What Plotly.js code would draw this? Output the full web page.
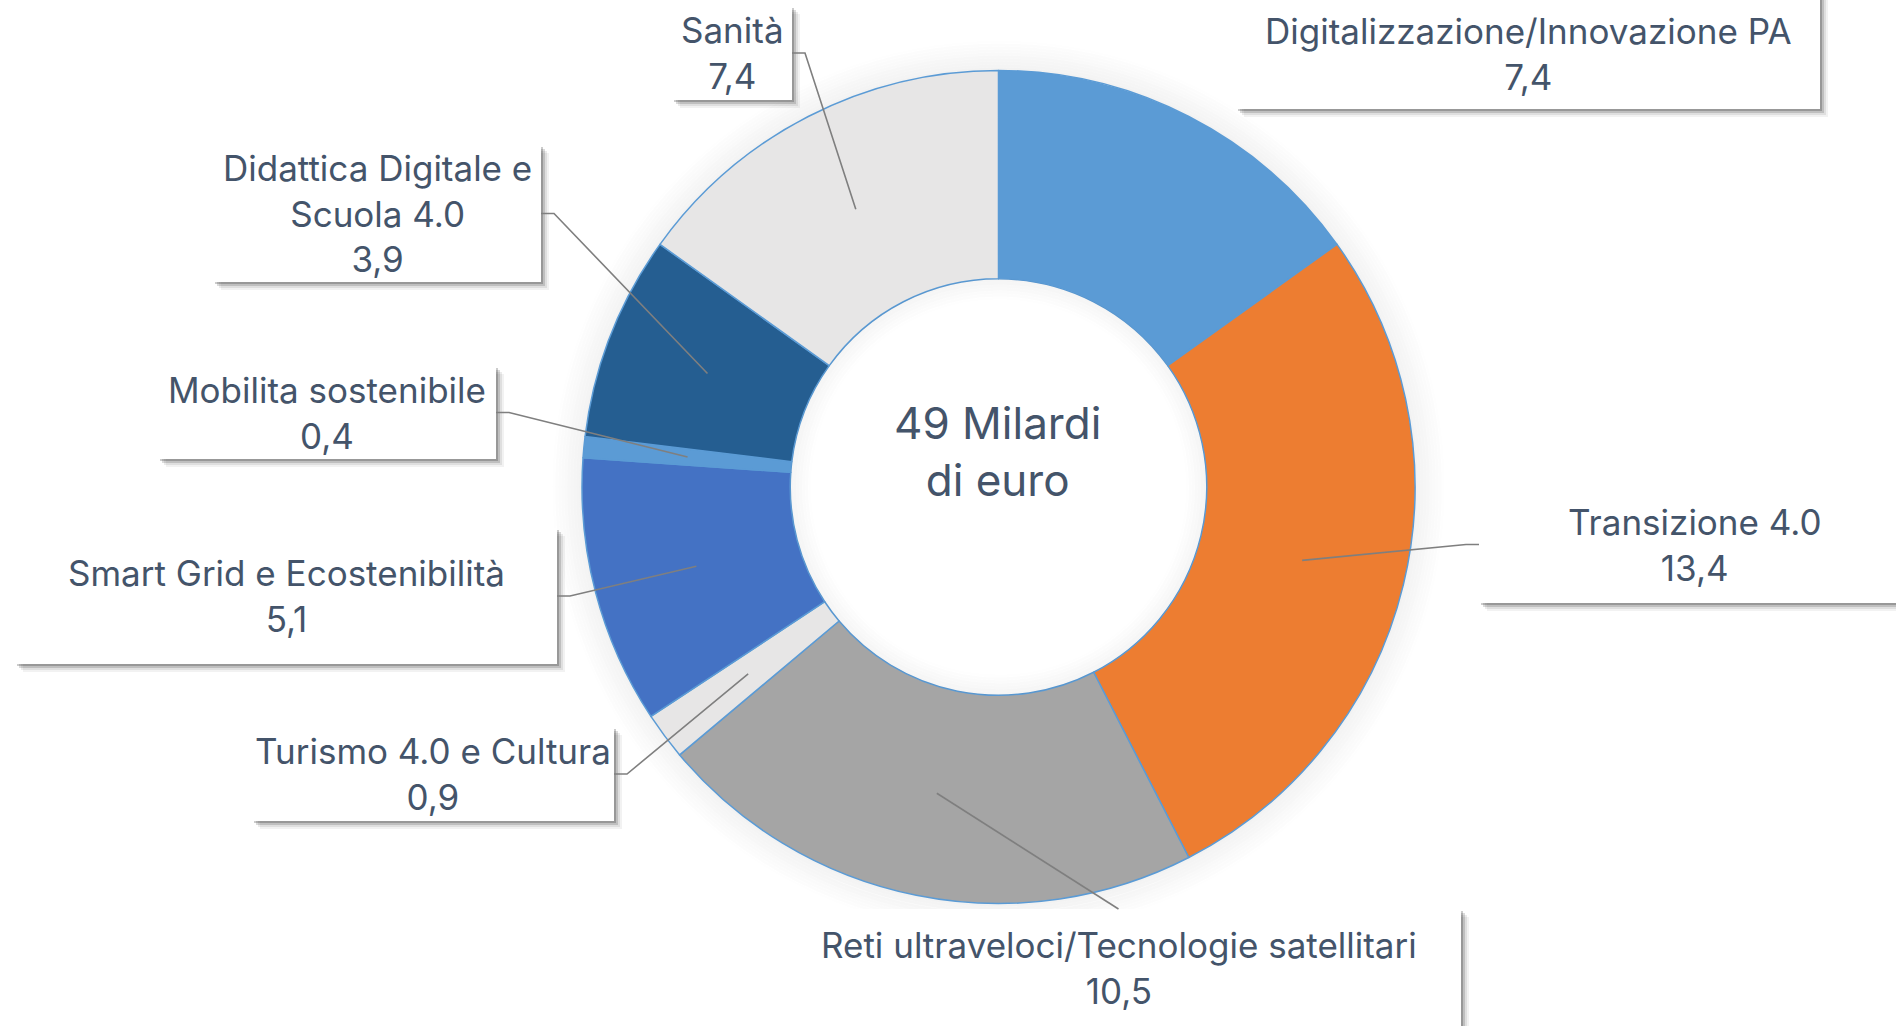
<!DOCTYPE html>
<html>
<head>
<meta charset="utf-8">
<script src="https://cdn.plot.ly/plotly-3.0.1.min.js"></script>
<style>
  html, body { margin: 0; padding: 0; background: #ffffff; }
  #chart { width: 1896px; height: 1026px; }
</style>
</head>
<body>
<div id="chart"></div>
<script>
// ---- data ----
const categories = [
  "Digitalizzazione/Innovazione PA",
  "Transizione 4.0",
  "Reti ultraveloci/Tecnologie satellitari",
  "Turismo 4.0 e Cultura",
  "Smart Grid e Ecostenibilità",
  "Mobilita sostenibile",
  "Didattica Digitale e Scuola 4.0",
  "Sanità"
];
const labelTexts = [
  "Digitalizzazione/Innovazione PA",
  "Transizione 4.0",
  "Reti ultraveloci/Tecnologie satellitari",
  "Turismo 4.0 e Cultura",
  "Smart Grid e Ecostenibilità",
  "Mobilita sostenibile",
  "Didattica Digitale e<br>Scuola 4.0",
  "Sanità"
];
const values = [7.4, 13.4, 10.5, 0.9, 5.1, 0.4, 3.9, 7.4];
const centerText = "49 Milardi<br>di euro";

// ---- styles / layout positions ----
const colors = ["#5B9BD5", "#ED7D31", "#A5A5A5", "#E7E6E6", "#4472C4", "#5B9BD5", "#255E91", "#E7E6E6"];
const W = 1896, H = 1026;
const CX = 998.5, CY = 487, R = 416.5, HOLE = 0.5;
const textColor = "#44546A";
const fontFamily = "Inter, 'Open Sans', sans-serif";

// label boxes in pixels [x0, y0, x1, y1] and leader side
const boxes = [
  {b: [1236, -10, 1820, 109], side: null},
  {b: [1479, 486, 1910, 603], side: "left"},
  {b: [776, 909, 1461, 1045], side: "top"},
  {b: [252, 727, 614, 821], side: "right"},
  {b: [15, 528, 557, 664], side: "right"},
  {b: [158, 366, 496, 459], side: "right"},
  {b: [213, 145, 541, 282], side: "right"},
  {b: [672, 6, 792, 100], side: "right"}
];

const px = x => x / W;
const py = y => 1 - y / H;

const total = values.reduce((a, b) => a + b, 0);
const shapes = [];
const annotations = [];

// soft glow around the ring
for (let k = 0; k < 10; k++) {
  const r = R + 1.5 + 3 * k;
  shapes.push({type: "circle", xref: "paper", yref: "paper", layer: "below",
    x0: px(CX - r), x1: px(CX + r), y0: py(CY + r), y1: py(CY - r),
    line: {width: 3, color: "rgba(0,0,0," + (0.05 * (1 - k / 10)).toFixed(4) + ")"}});
}
for (let k = 0; k < 7; k++) {
  const r = R * HOLE - 1.5 - 3 * k;
  shapes.push({type: "circle", xref: "paper", yref: "paper", layer: "above",
    x0: px(CX - r), x1: px(CX + r), y0: py(CY + r), y1: py(CY - r),
    line: {width: 3, color: "rgba(0,0,0," + (0.04 * (1 - k / 7)).toFixed(4) + ")"}});
}

// shadows + boxes
boxes.forEach(o => {
  const [x0, y0, x1, y1] = o.b;
  [[8, 0.05], [6, 0.08], [4, 0.14], [2, 0.2]].forEach(([d, a]) => {
    shapes.push({type: "rect", xref: "paper", yref: "paper", layer: "above",
      x0: px(x0 + d), x1: px(x1 + d), y0: py(y0 + d), y1: py(y1 + d),
      line: {width: 0}, fillcolor: "rgba(0,0,0," + a + ")"});
  });
  shapes.push({type: "rect", xref: "paper", yref: "paper", layer: "above",
    x0: px(x0), x1: px(x1), y0: py(y0), y1: py(y1),
    line: {width: 0}, fillcolor: "#ffffff"});
});

// leader lines + label text
let cum = 0;
values.forEach((v, i) => {
  const mid = (cum + v / 2) / total * 2 * Math.PI;
  cum += v;
  const rr = R * (1 + HOLE) / 2;
  const ax = CX + rr * Math.sin(mid);
  const ay = CY - rr * Math.cos(mid);
  const o = boxes[i];
  const [x0, y0, x1, y1] = o.b;
  let path = null;
  if (o.side === "right") {
    const ym = (y0 + y1) / 2;
    path = `M ${px(x1)} ${py(ym)} L ${px(x1 + 13)} ${py(ym)} L ${px(ax)} ${py(ay)}`;
  } else if (o.side === "left") {
    const ym = (y0 + y1) / 2;
    path = `M ${px(x0)} ${py(ym)} L ${px(x0 - 13)} ${py(ym)} L ${px(ax)} ${py(ay)}`;
  } else if (o.side === "top") {
    const xm = (x0 + x1) / 2;
    path = `M ${px(xm)} ${py(y0)} L ${px(ax)} ${py(ay)}`;
  }
  if (path) {
    shapes.push({type: "path", xref: "paper", yref: "paper", layer: "above",
      path: path, line: {color: "#7F7F7F", width: 1.6}});
  }
  const txt = labelTexts[i] + "<br>" + v.toFixed(1).replace(".", ",");
  const bx = (x0 + x1) / 2;
  const by = (Math.max(y0, 0) + Math.min(y1, H)) / 2;
  annotations.push({
    xref: "paper", yref: "paper", x: px(bx), y: py(by),
    xanchor: "center", yanchor: "middle", showarrow: false,
    text: txt, align: "center",
    font: {family: fontFamily, size: 35, color: textColor}
  });
});

annotations.push({
  xref: "paper", yref: "paper", x: px(997), y: py(451),
  xanchor: "center", yanchor: "middle", showarrow: false,
  text: centerText, align: "center",
  font: {family: fontFamily, size: 44, color: textColor}
});

const trace = {
  type: "pie",
  labels: categories,
  values: values,
  hole: HOLE,
  sort: false,
  direction: "clockwise",
  rotation: 0,
  textinfo: "none",
  hoverinfo: "label+value",
  marker: {colors: colors, line: {color: "#5B9BD5", width: 1.5}},
  domain: {x: [px(CX - R), px(CX + R)], y: [py(CY + R), py(CY - R)]},
  showlegend: false
};

const layout = {
  width: W, height: H,
  margin: {l: 0, r: 0, t: 0, b: 0},
  paper_bgcolor: "#ffffff",
  plot_bgcolor: "#ffffff",
  showlegend: false,
  shapes: shapes,
  annotations: annotations,
  font: {family: fontFamily, color: textColor}
};

Plotly.newPlot("chart", [trace], layout, {displayModeBar: false, staticPlot: true});
</script>
</body>
</html>
